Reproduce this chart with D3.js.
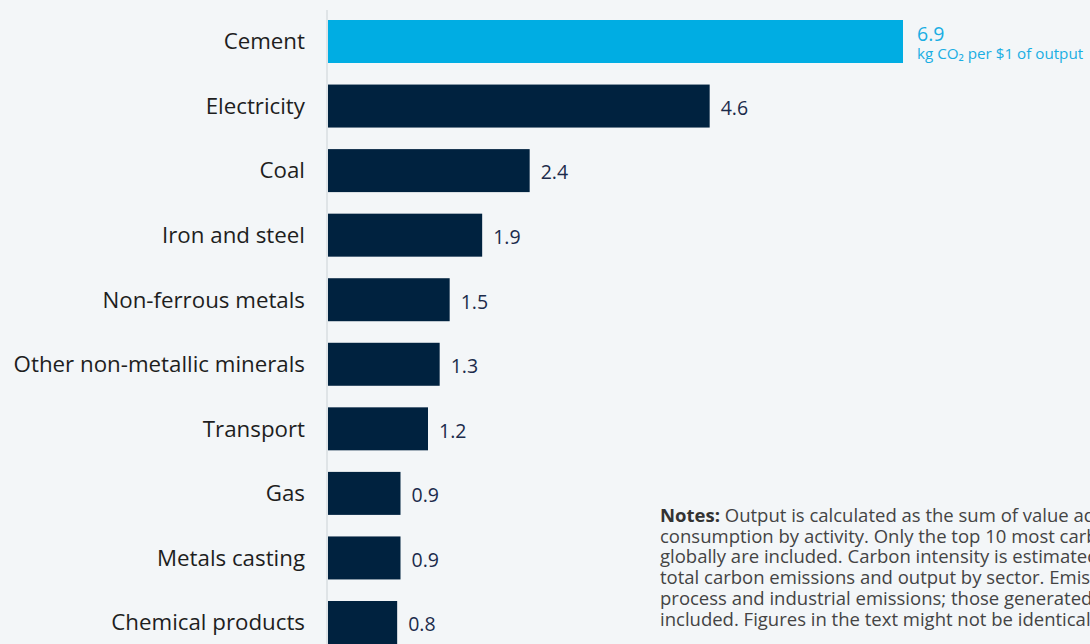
<!DOCTYPE html>
<html><head><meta charset="utf-8">
<script src="https://cdn.jsdelivr.net/npm/d3@7"></script>
<style>
html,body{margin:0;padding:0;background:#f3f6f8;overflow:hidden}
svg{display:block}
</style></head>
<body>
<svg id="chart" width="1090" height="644"></svg>
<script>
const categories = ["Cement","Electricity","Coal","Iron and steel","Non-ferrous metals","Other non-metallic minerals","Transport","Gas","Metals casting","Chemical products"];
const values = [6.9,4.58,2.42,1.85,1.46,1.34,1.2,0.87,0.87,0.83];
const valueLabels = ["6.9","4.6","2.4","1.9","1.5","1.3","1.2","0.9","0.9","0.8"];
const unitLabel = "kg CO\u2082 per $1 of output";
const noteLines = [
  ["Notes:", " Output is calculated as the sum of value added and intermediate"],
  ["", "consumption by activity. Only the top 10 most carbon-intensive sectors"],
  ["", "globally are included. Carbon intensity is estimated as the ratio of"],
  ["", "total carbon emissions and output by sector. Emissions include energy,"],
  ["", "process and industrial emissions; those generated by land use are not"],
  ["", "included. Figures in the text might not be identical due to rounding."]
];

const svg = d3.select("#chart");
const x = d3.scaleLinear().domain([0, 6.9]).range([328, 903]);
const y = d3.scaleBand().domain(categories).range([20, 644]).paddingInner(0.334).paddingOuter(0);

svg.append("line").attr("x1",327).attr("x2",327).attr("y1",10).attr("y2",644)
  .attr("stroke","#d9dee2").attr("stroke-width",1.5);

svg.selectAll("rect.bar").data(categories).join("rect")
  .attr("class","bar")
  .attr("x", x(0))
  .attr("y", d=>y(d))
  .attr("width", (d,i)=>x(values[i])-x(0))
  .attr("height", y.bandwidth())
  .attr("fill", (d,i)=> i===0 ? "#00ade3" : "#00223f");

svg.selectAll("text.cat").data(categories).join("text")
  .attr("class","cat")
  .attr("x", 305)
  .attr("y", d=>y(d)+y.bandwidth()/2)
  .attr("dy","0.35em")
  .attr("text-anchor","end")
  .attr("font-family","Open Sans")
  .attr("font-size",22.3)
  .attr("fill","#1e1e1e")
  .text(d=>d);

svg.selectAll("text.val").data(categories.slice(1)).join("text")
  .attr("class","val")
  .attr("x", (d,i)=>x(values[i+1])+11)
  .attr("y", d=>y(d)+y.bandwidth()/2+2)
  .attr("dy","0.35em")
  .attr("font-family","Open Sans")
  .attr("font-size",19.5)
  .attr("fill","#1b2b4b")
  .text((d,i)=>valueLabels[i+1]);

svg.append("text")
  .attr("x", x(values[0])+14).attr("y", y(categories[0])+21)
  .attr("font-family","Open Sans").attr("font-size",19.5).attr("fill","#1aaee3")
  .text(valueLabels[0]);
svg.append("text")
  .attr("x", x(values[0])+14).attr("y", y(categories[0])+39)
  .attr("font-family","Open Sans").attr("font-size",15.2).attr("fill","#1aaee3")
  .text(unitLabel);

const notes = svg.append("text").attr("font-family","Open Sans").attr("font-size",18.5).attr("fill","#444");
noteLines.forEach((l,i)=>{
  const t = notes.append("tspan").attr("x",660).attr("y",522+i*20.7);
  if(l[0]) t.append("tspan").attr("font-weight","bold").attr("fill","#333").text(l[0]);
  t.append("tspan").text(l[1]);
});
</script>
</body></html>
